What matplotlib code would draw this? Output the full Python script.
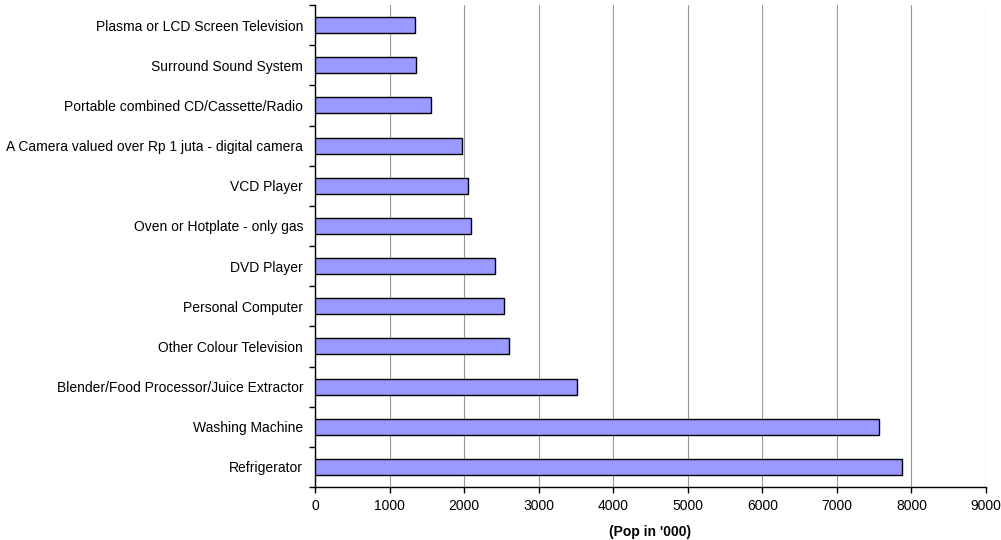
import matplotlib.pyplot as plt
import numpy as np

plt.rcParams['font.family'] = ['Liberation Sans', 'DejaVu Sans']

# categories listed bottom to top
items = [
    "Refrigerator",
    "Washing Machine",
    "Blender/Food Processor/Juice Extractor",
    "Other Colour Television",
    "Personal Computer",
    "DVD Player",
    "Oven or Hotplate - only gas",
    "VCD Player",
    "A Camera valued over Rp 1 juta - digital camera",
    "Portable combined CD/Cassette/Radio",
    "Surround Sound System",
    "Plasma or LCD Screen Television",
]
pop = [7870, 7560, 3520, 2600, 2535, 2418, 2090, 2054, 1977, 1554, 1350, 1347]
x_ticks = [0, 1000, 2000, 3000, 4000, 5000, 6000, 7000, 8000, 9000]

fig = plt.figure(figsize=(10.01, 5.40), dpi=100)
ax = fig.add_axes([315 / 1001, 1 - 487 / 540, (986 - 315) / 1001, (487 - 5) / 540])

y = np.arange(len(items))
ax.barh(y, pop, height=0.4, color='#9999ff', edgecolor='black', linewidth=1.0, zorder=3)

ax.set_xlim(0, 9000)
ax.set_ylim(-0.5, len(items) - 0.5)
ax.set_xticks(x_ticks)
ax.set_xticklabels([str(t) for t in x_ticks], fontsize=10)
ax.set_yticks(y)
ax.set_yticklabels(items, fontsize=10)
ax.set_yticks(np.arange(len(items) + 1) - 0.5, minor=True)
ax.tick_params(axis='y', which='major', length=0, pad=8.5)
ax.tick_params(axis='y', which='minor', length=4, direction='out', width=1)
ax.tick_params(axis='x', length=4, direction='out', width=1, pad=5)

ax.grid(axis='x', color='#999999', linewidth=0.8, zorder=0)
for side in ['top', 'right']:
    ax.spines[side].set_visible(False)
ax.spines['left'].set_linewidth(1.0)
ax.spines['bottom'].set_linewidth(1.0)

ax.set_xlabel("(Pop in '000)", fontsize=10, fontweight='bold', labelpad=8)

fig.savefig('out.png', dpi=100)
